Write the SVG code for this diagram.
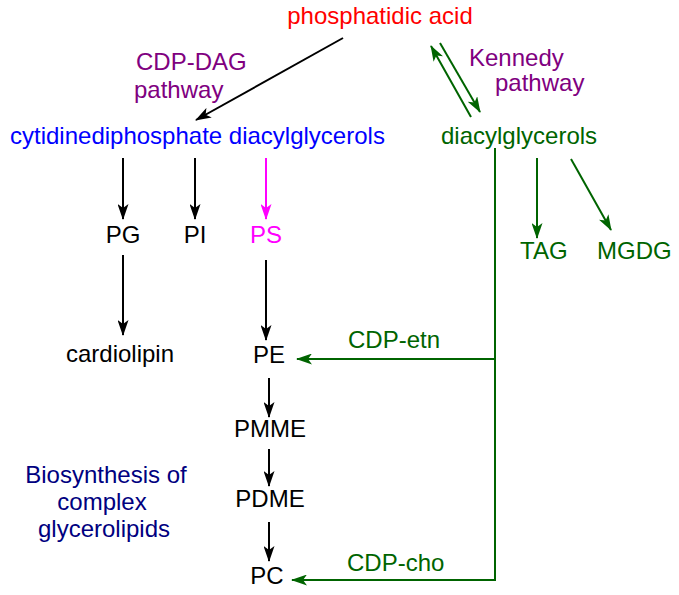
<svg xmlns="http://www.w3.org/2000/svg" width="679" height="595" viewBox="0 0 679 595">
<style>
text{font-family:"Liberation Sans",Arial,sans-serif;font-size:24px}
.k{fill:#000}.r{fill:#ff0000}.p{fill:#800080}.b{fill:#0000ff}.g{fill:#006400}.m{fill:#ff00ff}.n{fill:#000080}
.lk{stroke:#000;stroke-width:2;fill:none}
.lg{stroke:#006400;stroke-width:2;fill:none}
.lm{stroke:#ff00ff;stroke-width:2;fill:none}
</style>
<defs>
<marker id="ak" markerUnits="userSpaceOnUse" markerWidth="17" markerHeight="11" refX="15" refY="5.5" orient="auto"><path d="M0,0 L16,5.5 L0,11 L4,5.5 z" fill="#000"/></marker>
<marker id="ag" markerUnits="userSpaceOnUse" markerWidth="17" markerHeight="11" refX="15" refY="5.5" orient="auto"><path d="M0,0 L16,5.5 L0,11 L4,5.5 z" fill="#006400"/></marker>
<marker id="am" markerUnits="userSpaceOnUse" markerWidth="17" markerHeight="11" refX="15" refY="5.5" orient="auto"><path d="M0,0 L16,5.5 L0,11 L4,5.5 z" fill="#ff00ff"/></marker>
</defs>
<g id="connectors">
<line class="lk" x1="343" y1="38" x2="196" y2="120" marker-end="url(#ak)"/>
<line class="lg" x1="471" y1="117" x2="431" y2="46" marker-end="url(#ag)"/>
<line class="lg" x1="440" y1="43" x2="480" y2="112" marker-end="url(#ag)"/>
<line class="lg" x1="537" y1="158" x2="537" y2="238" marker-end="url(#ag)"/>
<line class="lg" x1="571" y1="159" x2="611" y2="230" marker-end="url(#ag)"/>
<polyline class="lg" points="495,148 495,580 292,580" marker-end="url(#ag)"/>
<line class="lg" x1="495" y1="359" x2="297" y2="359" marker-end="url(#ag)"/>
<line class="lk" x1="123" y1="158" x2="123" y2="219" marker-end="url(#ak)"/>
<line class="lk" x1="195" y1="158" x2="195" y2="219" marker-end="url(#ak)"/>
<line class="lm" x1="266" y1="158" x2="266" y2="219" marker-end="url(#am)"/>
<line class="lk" x1="123" y1="255" x2="123" y2="335" marker-end="url(#ak)"/>
<line class="lk" x1="266" y1="260" x2="266" y2="340" marker-end="url(#ak)"/>
<line class="lk" x1="269" y1="378" x2="269" y2="417" marker-end="url(#ak)"/>
<line class="lk" x1="269" y1="449" x2="269" y2="486" marker-end="url(#ak)"/>
<line class="lk" x1="269" y1="522" x2="269" y2="561" marker-end="url(#ak)"/>
</g>
<g id="pa"><text class="r" x="380" y="24" text-anchor="middle">phosphatidic acid</text></g>
<g id="cdpdag-label"><text class="p" x="136" y="70">CDP-DAG</text><text class="p" x="134" y="98">pathway</text></g>
<g id="kennedy-label"><text class="p" x="469" y="66">Kennedy</text><text class="p" x="495" y="91">pathway</text></g>
<g id="cdpdag"><text class="b" x="10" y="144">cytidinediphosphate diacylglycerols</text></g>
<g id="dag"><text class="g" x="441" y="144">diacylglycerols</text></g>
<g id="tag"><text class="g" x="520" y="259">TAG</text></g>
<g id="mgdg"><text class="g" x="597" y="259">MGDG</text></g>
<g id="pg"><text class="k" x="123" y="243" text-anchor="middle">PG</text></g>
<g id="pi"><text class="k" x="195" y="243" text-anchor="middle">PI</text></g>
<g id="ps"><text class="m" x="266" y="243" text-anchor="middle">PS</text></g>
<g id="cardiolipin"><text class="k" x="120" y="362" text-anchor="middle">cardiolipin</text></g>
<g id="pe"><text class="k" x="269" y="363" text-anchor="middle">PE</text></g>
<g id="pmme"><text class="k" x="270" y="437" text-anchor="middle">PMME</text></g>
<g id="pdme"><text class="k" x="270" y="507" text-anchor="middle">PDME</text></g>
<g id="pc"><text class="k" x="267" y="584" text-anchor="middle">PC</text></g>
<g id="cdpetn"><text class="g" x="348" y="348">CDP-etn</text></g>
<g id="cdpcho"><text class="g" x="347" y="571">CDP-cho</text></g>
<g id="bio"><text class="n" x="106" y="483" text-anchor="middle">Biosynthesis of</text><text class="n" x="102" y="510" text-anchor="middle">complex</text><text class="n" x="104" y="537" text-anchor="middle">glycerolipids</text></g>
</svg>
